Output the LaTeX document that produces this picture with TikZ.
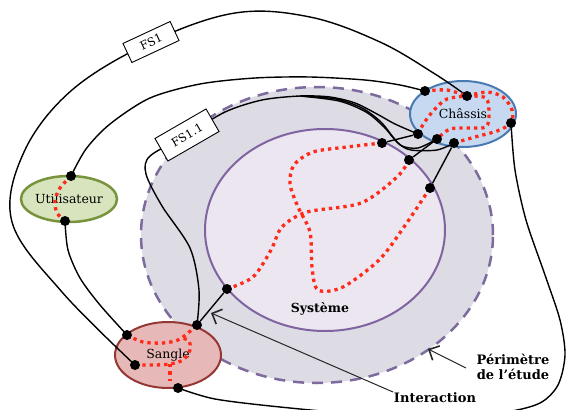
\documentclass[tikz,border=0pt]{standalone}
\usepackage{fontspec}
\setmainfont{DejaVu Serif}
\usetikzlibrary{arrows.meta,shapes.geometric}
\definecolor{perimfill}{HTML}{DDDBE4}
\definecolor{perimline}{HTML}{7D6B9E}
\definecolor{sysfill}{HTML}{EBE6F0}
\definecolor{sysline}{HTML}{8064A2}
\definecolor{chfill}{HTML}{C6D9F1}
\definecolor{chline}{HTML}{4A7AB2}
\definecolor{utfill}{HTML}{D7E4BD}
\definecolor{utline}{HTML}{77933C}
\definecolor{sgfill}{HTML}{E6B9B8}
\definecolor{sgline}{HTML}{953735}
\definecolor{redc}{HTML}{FF2A1A}
\pgfdeclarelayer{bg}
\pgfdeclarelayer{wires}
\pgfdeclarelayer{reds}
\pgfsetlayers{bg,wires,reds,main}
\begin{document}
\begin{tikzpicture}[x=1pt,y=-1pt,
  dotnode/.style={circle,fill=black,inner sep=0pt,minimum size=10pt},
  wire/.style={draw=black,line width=1.4pt},
  reddot/.style={draw=redc,line width=3.3pt,dash pattern=on 3.3pt off 4pt},
  fsbox/.style={draw=black,fill=white,line width=0.9pt,inner sep=0pt,font=\fontsize{11.5}{12}\selectfont},
  blob/.style={ellipse,line width=2pt,inner sep=0pt,font=\fontsize{12.5}{14}\selectfont},
  callout/.style={draw=black!85,line width=1pt,-{Straight Barb[length=8pt,width=16pt,line width=1.6pt]}},
  lbl/.style={font=\bfseries\fontsize{13}{15}\selectfont,align=center}
]
\useasboundingbox (0,0) rectangle (566,410);

% background shapes
\begin{pgfonlayer}{bg}
\node[ellipse,fill=perimfill,draw=perimline,line width=2.5pt,dash pattern=on 11pt off 8pt,
      minimum width=352pt,minimum height=296pt,inner sep=0pt] (perim) at (317,235) {};
\node[ellipse,fill=sysfill,draw=sysline,line width=2pt,
      minimum width=240pt,minimum height=202pt,inner sep=0pt] (sys) at (325,230) {};
\node[blob,fill=chfill,draw=chline,minimum width=106pt,minimum height=66pt] (chassis) at (463,114) {Châssis};
\node[blob,fill=utfill,draw=utline,line width=2.5pt,minimum width=92pt,minimum height=46pt] (util) at (69,199) {Utilisateur};
\node[blob,fill=sgfill,draw=sgline,minimum width=106pt,minimum height=66pt] (sangle) at (168,355) {Sangle};
\end{pgfonlayer}

% dots
\node[dotnode] (c1) at (425,91) {};
\node[dotnode] (c2) at (467,96) {};
\node[dotnode] (c3) at (511,123) {};
\node[dotnode] (c4) at (418,134) {};
\node[dotnode] (c5) at (437,139) {};
\node[dotnode] (c6) at (454,143) {};
\node[dotnode] (s7) at (382,143) {};
\node[dotnode] (s8) at (409,160) {};
\node[dotnode] (s9) at (430,188) {};
\node[dotnode] (s0) at (227,289) {};
\node[dotnode] (u1) at (71,176) {};
\node[dotnode] (u2) at (65,221) {};
\node[dotnode] (g1) at (127,335) {};
\node[dotnode] (g2) at (135,365) {};
\node[dotnode] (g3) at (197,325) {};
\node[dotnode] (g4) at (178,388) {};

% function boxes
\node[fsbox,rotate=25,minimum width=52pt,minimum height=21pt] (fs1) at (151,42) {FS1};
\node[fsbox,rotate=30,minimum width=59pt,minimum height=26pt] (fs11) at (187,135) {FS1.1};

% black connectors
\begin{pgfonlayer}{wires}
\draw[wire] plot[smooth,tension=0.6] coordinates {(g2) (62,292) (12,222) (24,152) (72,90) (fs1) (235,13) (310,17) (380,42) (435,74) (c2)};
\draw[wire] plot[smooth] coordinates {(u1) (86,149) (110,124) (150,98) (200,84) (255,78) (310,77) (365,80) (400,85) (c1)};
\draw[wire] plot[smooth] coordinates {(u2) (68,250) (80,278) (100,305) (g1)};
\draw[wire] plot[smooth] coordinates {(g4) (215,399) (280,407) (360,414) (440,416) (505,412) (540,403) (558,385) (565,355) (560,320) (545,275) (526,220) (515,170) (c3)};
\draw[wire] plot[smooth] coordinates {(g3) (199,290) (190,248) (162,206) (146,174) (150,156) (fs11) (225,112) (262,100) (300,96) (330,97) (355,103) (377,114) (395,124) (c4)};
\draw[wire] plot[smooth] coordinates {(300,96) (336,99) (362,108) (381,122) (393,137) (402,146) (418,148) (c5)};
\draw[wire] plot[smooth] coordinates {(300,96) (339,101) (366,112) (384,127) (398,143) (411,150) (437,150) (c6)};
\draw[wire] (s7) -- (c4);
\draw[wire] (s8) -- (c5);
\draw[wire] (s9) -- (c6);
\draw[wire] (g3) -- (s0);
\end{pgfonlayer}

% red dotted flows
\begin{pgfonlayer}{reds}
\draw[reddot] plot[smooth] coordinates {(s7) (347,147) (313,152) (294,165) (290,184) (298,207) (310,232) (312,267) (318,290) (343,287) (379,260) (404,227) (s9)};
\draw[reddot] plot[smooth] coordinates {(s8) (397,177) (361,203) (307,212) (282,227) (271,250) (253,277) (s0)};
\draw[reddot] plot[smooth] coordinates {(c1) (447,90) (c2)};
\draw[reddot] plot[smooth] coordinates {(c4) (424,123) (434,110) (447,99) (c2)};
\draw[reddot] plot[smooth] coordinates {(c2) (487,92) (503,97) (512,110) (c3) (497,131) (475,137) (c6)};
\draw[reddot] plot[smooth] coordinates {(c2) (486,98) (489,114) (486,127) (468,128) (450,129) (c5)};
\draw[reddot] plot[smooth] coordinates {(u1) (60,188) (55,201) (57,213) (u2)};
\draw[reddot] plot[smooth] coordinates {(g1) (143,342) (163,343) (178,340) (188,333) (g3)};
\draw[reddot] plot[smooth] coordinates {(g2) (155,365) (170,364) (183,360) (190,350) (189,341) (182,338)};
\draw[reddot] (170,364) -- (170,381);
\end{pgfonlayer}

% labels and callouts
\node[lbl,font=\bfseries\fontsize{12.5}{15}\selectfont] (syslbl) at (320,309) {Système};
\node[lbl] (perlbl) at (513,367) {Périmètre\\de l’étude};
\node[lbl] (intlbl) at (435,398) {Interaction};
\coordinate (intA) at (393,392);
\coordinate (intB) at (211,313);
\coordinate (perA) at (466,368);
\coordinate (perB) at (428,349);
\draw[callout] (intA) -- (intB);
\draw[callout] (perA) -- (perB);
\end{tikzpicture}
\end{document}
